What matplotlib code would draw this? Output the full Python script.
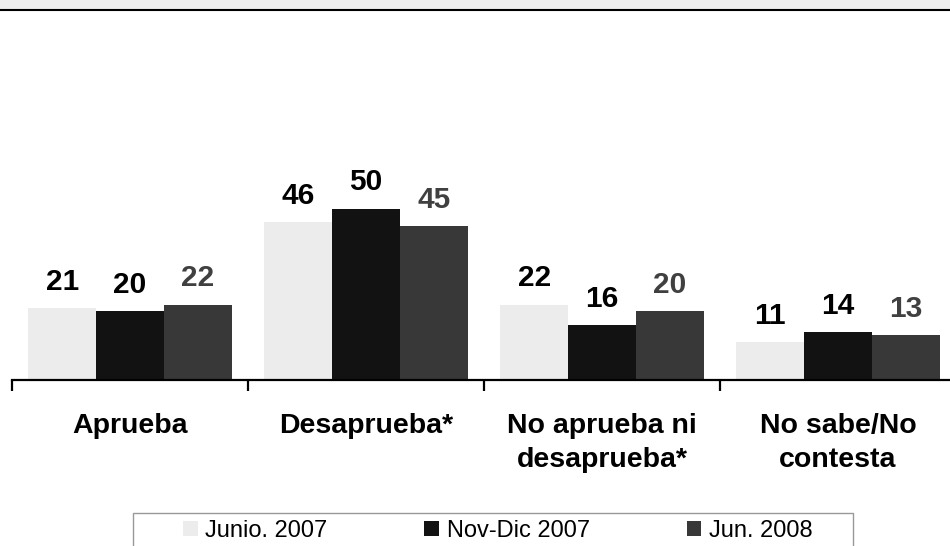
import matplotlib
matplotlib.use("Agg")
import matplotlib.pyplot as plt
from matplotlib.patches import Patch, Rectangle
from matplotlib.lines import Line2D
import numpy as np

plt.rcParams['font.family'] = ['Liberation Sans', 'DejaVu Sans']

categories = ["Aprueba", "Desaprueba*", "No aprueba ni\ndesaprueba*", "No sabe/No\ncontesta"]
series_names = ["Junio. 2007", "Nov-Dic 2007", "Jun. 2008"]
junio_2007 = [21, 46, 22, 11]
novdic_2007 = [20, 50, 16, 14]
jun_2008 = [22, 45, 20, 13]
series_values = [junio_2007, novdic_2007, jun_2008]
bar_colors = ["#ececec", "#121212", "#383838"]
label_colors = ["#000000", "#000000", "#404040"]

W, H = 950, 546
fig = plt.figure(figsize=(W / 100, H / 100), dpi=100)

# top decorative band
fig.patches.append(Rectangle((0, 1 - 8.5 / H), 1, 8.5 / H, transform=fig.transFigure,
                             facecolor="#efefef", edgecolor="none", zorder=0))
fig.lines.append(Line2D([0, 1], [1 - 9.5 / H, 1 - 9.5 / H], transform=fig.transFigure,
                        color="black", linewidth=1.5))

ax_left = 12 / W
ax_width = 944 / W
ax_bottom = (H - 380) / H
ax_height = 205.8 / H
ax = fig.add_axes([ax_left, ax_bottom, ax_width, ax_height])

x = np.arange(len(categories))
bw = 0.287
offsets = [-bw, 0, bw]
for vals, col, lcol, off in zip(series_values, bar_colors, label_colors, offsets):
    bars = ax.bar(x + off, vals, width=bw, color=col, edgecolor="none", zorder=2)
    for b, v in zip(bars, vals):
        ax.annotate(str(v), (b.get_x() + b.get_width() / 2, b.get_height()),
                    xytext=(0, 13), textcoords="offset points",
                    ha="center", va="baseline", fontsize=21.5, fontweight="bold",
                    color=lcol)

ax.set_xlim(-0.5, 3.5)
ax.set_ylim(0, 60)
for s in ["top", "right", "left"]:
    ax.spines[s].set_visible(False)
ax.spines["bottom"].set_linewidth(1.6)
ax.set_yticks([])
ax.set_xticks(x)
ax.set_xticklabels(categories, fontsize=20.5, fontweight="bold", linespacing=1.4)
ax.tick_params(axis="x", which="major", length=0, pad=24)
ax.set_xticks(np.arange(-0.5, 3.5, 1.0), minor=True)
ax.tick_params(axis="x", which="minor", length=8, width=1.6, direction="out")
ax.set_facecolor("none")

# legend frame
fig.patches.append(Rectangle((133 / W, 0 - 10 / H), (853 - 133) / W, (H - 513 + 10) / H,
                             transform=fig.transFigure, facecolor="white",
                             edgecolor="#999999", linewidth=1.0, zorder=1))
handles = [Patch(facecolor=c, edgecolor="none") for c in bar_colors]
leg = fig.legend(handles, series_names, loc="upper left",
                 bbox_to_anchor=(183 / W, 1 - 520 / H), ncol=3, frameon=False,
                 fontsize=17, handlelength=0.62, handleheight=0.62,
                 handletextpad=0.33, columnspacing=4.1, borderpad=0, borderaxespad=0)
leg.set_zorder(3)

fig.savefig("out.png", dpi=100)
